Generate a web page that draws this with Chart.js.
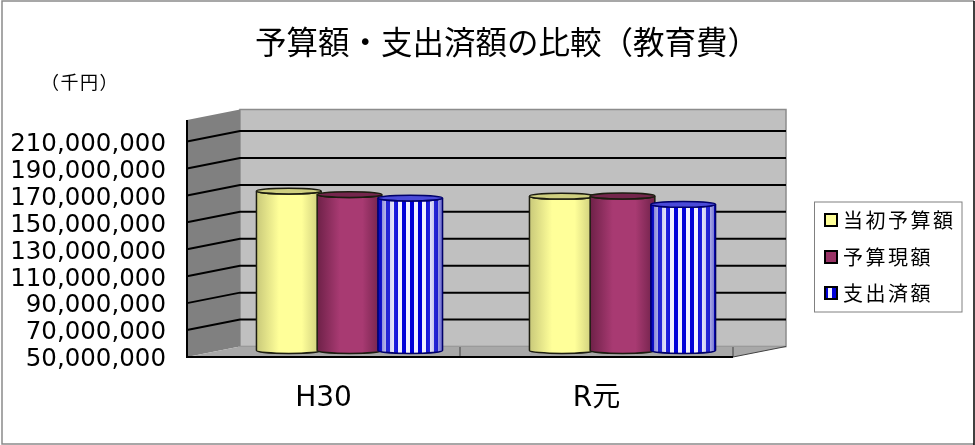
<!DOCTYPE html>
<html><head><meta charset="utf-8">
<style>html,body{margin:0;padding:0;background:#fff}canvas{display:block}</style>
<script src="https://cdn.jsdelivr.net/npm/chart.js@4"></script>
</head><body><div style="width:975px;height:445px"><canvas id="c" width="975" height="445"></canvas></div>
<script>
const categories = ['H30', 'R元'];
const initialBudget = [168800000, 165000000];
const currentBudget = [166200000, 165100000];
const spentAmount = [163600000, 158900000];
const yTicks = [50000000,70000000,90000000,110000000,130000000,150000000,170000000,190000000,210000000];
const seriesNames = ['当初予算額','予算現額','支出済額'];
const titleText = '予算額・支出済額の比較（教育費）';
const unitText = '（千円）';

const CJK = '"Noto Sans CJK JP"';
const LATIN = '"DejaVu Sans","Noto Sans CJK JP"';
const DEPTH_X = 53, DEPTH_Y = -10.5, BAR_DX = 26, BAR_DY = -6;

const off = document.createElement('canvas'); off.width = 8; off.height = 2;
const o = off.getContext('2d');
o.fillStyle = '#0000d8'; o.fillRect(0,0,8,2);
o.fillStyle = '#f0f0ff'; o.fillRect(4,0,4,2);
const stripes = document.createElement('canvas').getContext('2d').createPattern(off,'repeat');

const looks = [
  {edge:'#c9c97a', mid:'#ffff99', top:'#cfcf80'},
  {edge:'#6e2148', mid:'#a83a72', top:'#74264c'},
  {edge:'rgba(0,0,170,.6)', mid:'rgba(255,255,255,0)', top:'#4a4ad8'}
];

function cylinder(ctx, el, look, isStripe){
  const x0 = el.x - el.width/2, x1 = el.x + el.width/2, rx = el.width/2, ry = 2.9;
  const top = el.y, bot = el.base - 0.5;
  const body = () => { ctx.beginPath(); ctx.moveTo(x0, top); ctx.lineTo(x0, bot);
    ctx.ellipse(el.x, bot, rx, ry, 0, Math.PI, 0, true); ctx.lineTo(x1, top);
    ctx.ellipse(el.x, top, rx, ry, 0, 0, Math.PI, false); ctx.closePath(); };
  const g = ctx.createLinearGradient(x0,0,x1,0);
  g.addColorStop(0, look.edge); g.addColorStop(.35, look.mid); g.addColorStop(.7, look.mid); g.addColorStop(1, look.edge);
  if (isStripe){ body(); ctx.fillStyle = stripes; ctx.fill(); }
  body(); ctx.fillStyle = g; ctx.fill();
  ctx.strokeStyle = isStripe ? '#00006a' : '#1c1c10'; ctx.lineWidth = 1.5; body(); ctx.stroke();
  ctx.beginPath(); ctx.ellipse(el.x, top, rx, ry, 0, 0, Math.PI*2);
  ctx.fillStyle = look.top; ctx.fill(); ctx.stroke();
}

const scene = {
  id:'scene',
  afterLayout(chart){ const t = chart.titleBlock; t.left = 39; t.right = 975; },
  beforeDraw(chart){
    chart.scales.y.getLabelItems().forEach(it=>{ if(!it.moved){ it.options.translation[1]+=3; it.moved=true; } });
  },
  beforeDatasetsDraw(chart){
    const {ctx, chartArea:a, scales:{y}} = chart;
    const L=a.left, R=a.right, T=a.top, B=a.bottom, bx=DEPTH_X, by=DEPTH_Y;
    ctx.save();
    ctx.fillStyle='#c0c0c0'; ctx.fillRect(L+bx,T+by,R-L,B-T);
    ctx.strokeStyle='#8c8c8c'; ctx.lineWidth=1.5; ctx.strokeRect(L+bx,T+by,R-L,B-T);
    ctx.fillStyle='#808080'; ctx.beginPath(); ctx.moveTo(L,T); ctx.lineTo(L+bx,T+by); ctx.lineTo(L+bx,B+by); ctx.lineTo(L,B); ctx.closePath(); ctx.fill();
    ctx.fillStyle='#a8a8a8'; ctx.beginPath(); ctx.moveTo(L,B); ctx.lineTo(R,B); ctx.lineTo(R+bx,B+by); ctx.lineTo(L+bx,B+by); ctx.closePath(); ctx.fill();
    ctx.strokeStyle='#000'; ctx.lineWidth=2;
    yTicks.slice(1).forEach(v=>{ const p=y.getPixelForValue(v);
      ctx.beginPath(); ctx.moveTo(L,p); ctx.lineTo(L+bx,p+by); ctx.lineTo(R+bx,p+by); ctx.stroke(); });
    ctx.strokeStyle='#404040'; ctx.lineWidth=1;
    ctx.beginPath(); ctx.moveTo(R,B); ctx.lineTo(R+bx,B+by); ctx.stroke();
    const mid=(L+R)/2;
    ctx.beginPath(); ctx.moveTo(mid,B); ctx.lineTo(mid,B-10); ctx.moveTo(R,B); ctx.lineTo(R,B-10); ctx.stroke();
    ctx.strokeStyle='#000'; ctx.lineWidth=2;
    ctx.beginPath(); ctx.moveTo(L,T); ctx.lineTo(L,B); ctx.lineTo(R,B); ctx.stroke();
    ctx.restore();
  },
  beforeDatasetDraw(chart){ chart.ctx.save(); chart.ctx.translate(BAR_DX,BAR_DY); },
  afterDatasetDraw(chart){ chart.ctx.restore(); },
  afterDatasetsDraw(chart){
    const ctx=chart.ctx; ctx.save(); ctx.translate(BAR_DX,BAR_DY);
    [0,1,2].forEach(i=>chart.getDatasetMeta(i).data.forEach(el=>cylinder(ctx, el, looks[i], i===2)));
    ctx.restore();
  },
  afterDraw(chart){
    const ctx=chart.ctx; ctx.save();
    ctx.strokeStyle='#8a8a8a'; ctx.lineWidth=1.5;
    ctx.beginPath(); ctx.moveTo(974,1); ctx.lineTo(2,1); ctx.lineTo(2,444); ctx.lineTo(974,444); ctx.stroke();
    ctx.strokeStyle='#000'; ctx.beginPath(); ctx.moveTo(974,1); ctx.lineTo(974,445); ctx.stroke();
    ctx.fillStyle='#000'; ctx.textBaseline='middle'; ctx.textAlign='left';
    ctx.font='18px '+CJK; ctx.letterSpacing='1.5px'; ctx.fillText(unitText,41,82); ctx.letterSpacing='0px';
    ctx.fillStyle='#fff'; ctx.fillRect(814.5,202,147.5,110);
    ctx.strokeStyle='#808080'; ctx.lineWidth=1; ctx.strokeRect(814.5,202,147.5,110);
    const rows=[220,257,293], swatch=['#ffff99','#993366',stripes];
    seriesNames.forEach((n,i)=>{
      ctx.fillStyle=swatch[i]; ctx.fillRect(825,rows[i]-6,12,12);
      ctx.strokeStyle='#000'; ctx.lineWidth=2; ctx.strokeRect(825,rows[i]-6,12,12);
      ctx.fillStyle='#000'; ctx.font='20px '+CJK; ctx.letterSpacing='2.5px';
      ctx.fillText(n,843,rows[i]); ctx.letterSpacing='0px';
    });
    ctx.restore();
  }
};

new Chart(document.getElementById('c'),{
  type:'bar',
  data:{labels:categories,datasets:[
    {label:seriesNames[0],data:initialBudget,backgroundColor:'#ffff99',base:50000000,clip:false},
    {label:seriesNames[1],data:currentBudget,backgroundColor:'#993366',base:50000000,clip:false},
    {label:seriesNames[2],data:spentAmount,backgroundColor:'#0000d8',base:50000000,clip:false}
  ]},
  options:{
    responsive:false,animation:false,
    categoryPercentage:.667,barPercentage:1.066,
    layout:{padding:{left:0,top:0,right:242,bottom:0}},
    plugins:{
      legend:{display:false},tooltip:{enabled:false},
      title:{display:true,text:titleText,color:'#000',font:{family:CJK,size:31.5,weight:'normal'},padding:{top:23.5,bottom:58.7}}
    },
    scales:{
      x:{grid:{display:false},border:{display:false},
        ticks:{color:'#000',padding:17,maxRotation:0,font:{family:LATIN,size:28}},
        afterFit(s){s.height=88;}},
      y:{min:50000000,max:226000000,grid:{display:false},border:{display:false},
        afterBuildTicks(s){s.ticks=yTicks.map(v=>({value:v}));},
        ticks:{color:'#000',padding:13,autoSkip:false,font:{family:LATIN,size:24.5},callback:v=>v.toLocaleString('en-US')},
        afterFit(s){s.width=187;}}
    }
  },
  plugins:[scene]
});
</script></body></html>
